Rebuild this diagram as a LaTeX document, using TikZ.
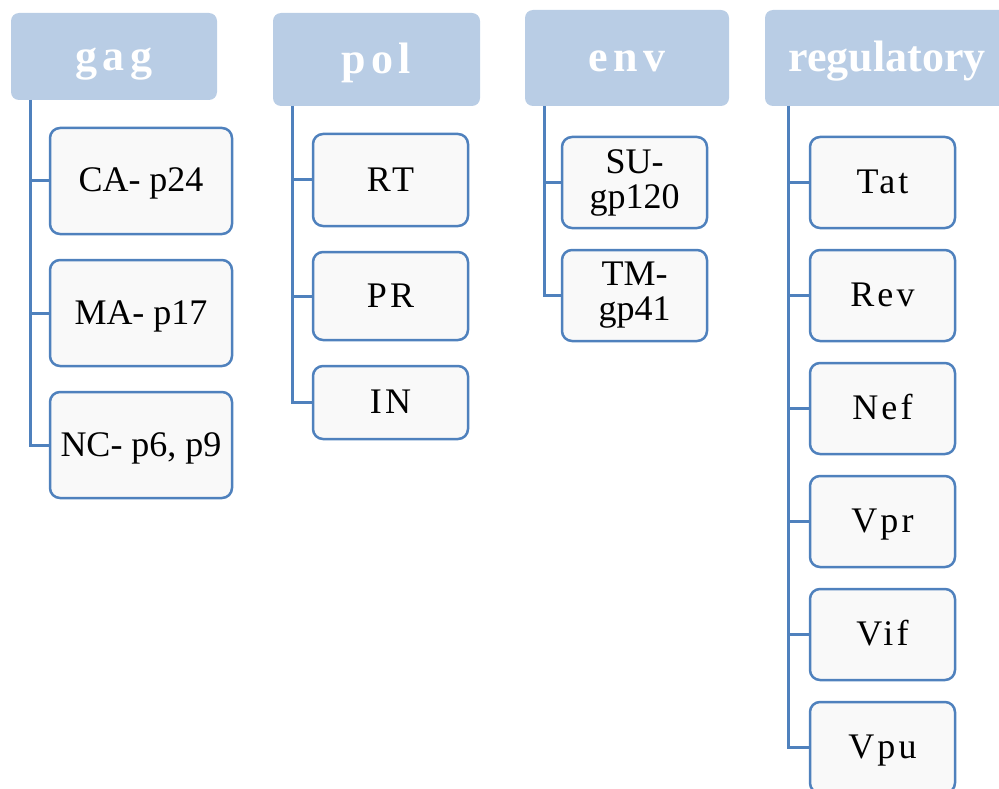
\documentclass[tikz,border=0pt]{standalone}
\usepackage{fontspec}
\setmainfont{Liberation Serif}
\definecolor{headblue}{HTML}{B9CDE5}
\definecolor{lineblue}{HTML}{4F81BD}
\definecolor{leaffill}{HTML}{F9F9F9}
\newcommand{\headfont}{\bfseries\fontsize{44}{50}\selectfont}
\newcommand{\leaffont}{\fontsize{36}{35}\selectfont}
\tikzset{
  head/.style={rectangle, rounded corners=8pt, fill=headblue, draw=none,
    text=white, inner sep=0pt, font=\headfont, text height=36pt, text depth=8pt},
  leaf/.style={rectangle, rounded corners=10pt, draw=lineblue, line width=2.5pt,
    fill=leaffill, text=black, inner sep=0pt, align=center, font=\leaffont},
  oneline/.style={text height=24pt, text depth=2pt},
  spaced/.style={oneline, font=\leaffont\addfontfeature{LetterSpace=9}},
  hspaced/.style={font=\headfont\addfontfeature{LetterSpace=12}},
  link/.style={draw=lineblue, line width=3pt},
}
\begin{document}
\begin{tikzpicture}[x=1pt,y=-1pt]
\useasboundingbox (0,0) rectangle (999,789);
\begin{scope}
\clip (0,0) rectangle (999,789);

% column headers
\node[head, hspaced, minimum width=206pt, minimum height=87pt] (gag) at (114,56.5) {gag};
\node[head, hspaced, minimum width=207pt, minimum height=93pt] (pol) at (376.5,59.5) {pol};
\node[head, hspaced, minimum width=204pt, minimum height=96pt] (env) at (627,58) {env};
\node[head, minimum width=244pt, minimum height=96pt] (reg) at (887,58) {regulatory};

% gag proteins
\node[leaf, oneline, minimum width=182pt, minimum height=106pt] (ca) at (141,181) {CA- p24};
\node[leaf, oneline, minimum width=182pt, minimum height=106pt] (ma) at (141,313) {MA- p17};
\node[leaf, oneline, minimum width=182pt, minimum height=106pt] (nc) at (141,445) {NC- p6, p9};

% pol enzymes
\node[leaf, spaced, minimum width=155pt, minimum height=92pt] (rt) at (390.5,180) {RT};
\node[leaf, spaced, minimum width=155pt, minimum height=88pt] (pr) at (390.5,296) {PR};
\node[leaf, spaced, minimum width=155pt, minimum height=73pt] (in) at (390.5,402.5) {IN};

% env glycoproteins
\node[leaf, minimum width=145pt, minimum height=91pt] (su) at (634.5,182.5) {SU-\\gp120};
\node[leaf, minimum width=145pt, minimum height=91pt] (tm) at (634.5,295.5) {TM-\\gp41};

% regulatory and accessory proteins
\node[leaf, spaced, minimum width=145pt, minimum height=91pt] (tat) at (882.5,182.5) {Tat};
\node[leaf, spaced, minimum width=145pt, minimum height=91pt] (rev) at (882.5,295.5) {Rev};
\node[leaf, spaced, minimum width=145pt, minimum height=91pt] (nef) at (882.5,408.5) {Nef};
\node[leaf, spaced, minimum width=145pt, minimum height=91pt] (vpr) at (882.5,521.5) {Vpr};
\node[leaf, spaced, minimum width=145pt, minimum height=91pt] (vif) at (882.5,634.5) {Vif};
\node[leaf, spaced, minimum width=145pt, minimum height=91pt] (vpu) at (882.5,747.5) {Vpu};

% spines under each header
\coordinate (gagspine) at (30,100);
\coordinate (polspine) at (292,106);
\coordinate (envspine) at (544,106);
\coordinate (regspine) at (788,106);

\draw[link] (gagspine) |- (nc.west);
\draw[link] (gagspine |- ca.west) -- (ca.west);
\draw[link] (gagspine |- ma.west) -- (ma.west);

\draw[link] (polspine) |- (in.west);
\draw[link] (polspine |- rt.west) -- (rt.west);
\draw[link] (polspine |- pr.west) -- (pr.west);

\draw[link] (envspine) |- (tm.west);
\draw[link] (envspine |- su.west) -- (su.west);

\draw[link] (regspine) |- (vpu.west);
\draw[link] (regspine |- tat.west) -- (tat.west);
\draw[link] (regspine |- rev.west) -- (rev.west);
\draw[link] (regspine |- nef.west) -- (nef.west);
\draw[link] (regspine |- vpr.west) -- (vpr.west);
\draw[link] (regspine |- vif.west) -- (vif.west);
\end{scope}
\end{tikzpicture}
\end{document}
